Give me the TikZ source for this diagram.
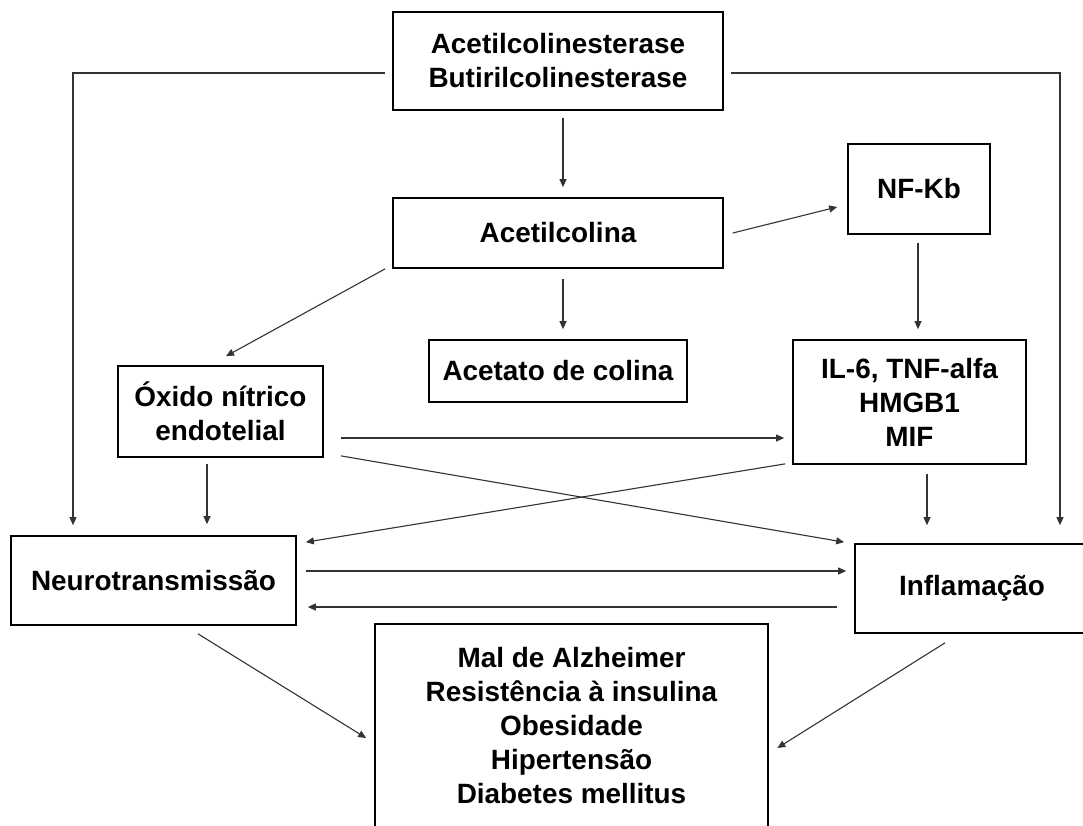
\documentclass[tikz,border=0pt]{standalone}
\usepackage{fontspec}
\setmainfont{Liberation Sans}
\usetikzlibrary{arrows.meta,calc}
\begin{document}
\begin{tikzpicture}[x=1pt,y=-1pt,
  box/.style={draw=black,line width=1.7pt,inner sep=0pt,align=center,
    font=\fontsize{27.9}{34}\selectfont\bfseries},
  conn/.style={draw=black!80,line width=1.1pt,-{Triangle[length=8pt,width=7pt]}},
  plainline/.style={draw=black!80,line width=1.1pt}]
\useasboundingbox (0,0) rectangle (1083,825);
\clip (0,0) rectangle (1083,825);
\fill[white] (0,0) rectangle (1083,825);
% boxes
\node[box,minimum width=330pt,minimum height=98pt] (A) at (558,61) {Acetilcolinesterase\\Butirilcolinesterase};
\node[box,minimum width=330pt,minimum height=70pt] (B) at (558,233) {Acetilcolina};
\node[box,minimum width=142pt,minimum height=90pt] (C) at (919,189) {NF-Kb};
\node[box,minimum width=258pt,minimum height=62pt] (D) at (558,371) {Acetato de colina};
\node[box,minimum width=233pt,minimum height=124pt] (E) at (909.5,402) {IL-6, TNF-alfa\\HMGB1\\MIF};
\node[box,minimum width=205pt,minimum height=91pt] (F) at (220.5,411.5) {Óxido nítrico\\endotelial};
\node[box,minimum width=285pt,minimum height=89pt] (G) at (153.5,580.5) {Neurotransmissão};
\node[box,minimum width=234pt,minimum height=89pt] (H) at (972,588.5) {Inflamação};
\node[box,minimum width=393pt,minimum height=203pt] (I) at (571.5,725.5) {Mal de Alzheimer\\Resistência à insulina\\Obesidade\\Hipertensão\\Diabetes mellitus};
% connectors
\draw[conn] ($(A.south)+(5,7)$) -- ($(B.north)+(5,-10)$);
\draw[conn] ($(A.west)+(-7,12)$) -| ($(G.north)+(-80.5,-10)$);
\draw[conn] ($(A.east)+(7,12)$) -| ($(H.north)+(88,-18)$);
\draw[conn] ($(B.east)+(9,0)$) -- ($(C.west)+(-10,18)$);
\draw[conn] ($(B.south)+(5,10)$) -- ($(D.north)+(5,-10)$);
\draw[conn] ($(B.south west)+(-7,0)$) -- ($(F.north)+(5.5,-9)$);
\draw[conn] ($(C.south)+(-1,8)$) -- ($(E.north)+(8.5,-10)$);
\draw[conn] ($(F.east)+(17,26.5)$) -- ($(E.west)+(-8,36)$);
\draw[conn] ($(F.south east)+(17,-2)$) -- ($(H.north west)+(-10,-1)$);
\draw[conn] ($(E.south west)+(-7,-1)$) -- ($(G.north east)+(9,7)$);
\draw[conn] ($(F.south)+(-13.5,6)$) -- ($(G.north)+(53.5,-11)$);
\draw[conn] ($(E.south)+(17.5,9)$) -- ($(H.north)+(-45,-18)$);
\draw[conn] ($(G.east)+(9,-9.5)$) -- ($(H.west)+(-8,-17.5)$);
\draw[conn] ($(H.west)+(-17,18.5)$) -- ($(G.east)+(11,26.5)$);
\draw[conn] ($(G.south)+(44.5,8)$) -- ($(I.west)+(-8,12.5)$);
\draw[conn] ($(H.south)+(-27,9)$) -- ($(I.east)+(8.5,22.5)$);
\end{tikzpicture}
\end{document}
